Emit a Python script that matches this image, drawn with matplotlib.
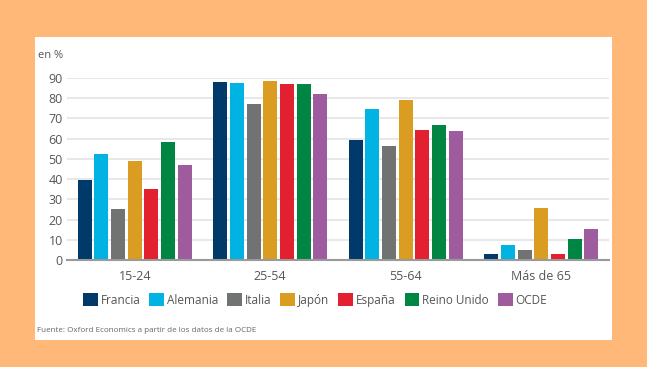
import numpy as np
import matplotlib.pyplot as plt

# Data
categories = ["15-24", "25-54", "55-64", "Más de 65"]
countries = ["Francia", "Alemania", "Italia", "Japón", "España", "Reino Unido", "OCDE"]
francia = [39.5, 88, 59.5, 3]
alemania = [52.5, 87.5, 74.5, 7.5]
italia = [25, 77, 56.5, 5]
japon = [49, 88.5, 79, 25.5]
espana = [35, 87, 64.5, 3]
reino_unido = [58.5, 87, 67, 10.5]
ocde = [47, 82, 64, 15.5]
yticks = [0, 10, 20, 30, 40, 50, 60, 70, 80, 90]

series = [francia, alemania, italia, japon, espana, reino_unido, ocde]
colors = ["#003A6B", "#00B3E3", "#707372", "#DA9D22", "#E2202F", "#008542", "#9E5C9E"]

text_color = "#555555"
font = "Open Sans"

fig = plt.figure(figsize=(6.47, 3.67), dpi=100)
fig.patch.set_facecolor("#FFB878")

# white panel behind the chart
bg = fig.add_axes([35 / 647, 1 - 340 / 367, 577 / 647, 303 / 367], zorder=0)
bg.set_facecolor("white")
bg.set_xticks([])
bg.set_yticks([])
for s in bg.spines.values():
    s.set_visible(False)

ax = fig.add_axes([67 / 647, 1 - 260 / 367, 542 / 647, 182 / 367], zorder=1)
ax.set_facecolor("none")

x = np.arange(len(categories))
pitch = 0.123
width = 0.104
for i, (vals, col, name) in enumerate(zip(series, colors, countries)):
    offs = (i - 3) * pitch
    ax.bar(x + offs, vals, width, color=col, label=name, zorder=3)

ax.set_xlim(-0.5, 3.5)
ax.set_ylim(0, 90)
ax.set_yticks(yticks)
ax.set_xticks(x)
ax.set_xticklabels(categories)
ax.yaxis.grid(True, color="#E8E8E8", linewidth=1.5, zorder=0)
ax.set_axisbelow(True)
for s in ["top", "right", "left"]:
    ax.spines[s].set_visible(False)
ax.spines["bottom"].set_color("#9A9A9A")
ax.spines["bottom"].set_linewidth(1.5)
ax.spines["bottom"].set_zorder(4)
ax.tick_params(axis="both", length=0, labelsize=9, labelcolor=text_color)
ax.tick_params(axis="y", pad=3)
ax.tick_params(axis="x", pad=7)
for lbl in ax.get_xticklabels() + ax.get_yticklabels():
    lbl.set_fontfamily(font)

fig.text(38 / 647, 1 - 55 / 367, "en %", fontsize=8, color=text_color,
         family=font, va="center", ha="left", zorder=2)

fig.legend(loc="center", bbox_to_anchor=(315 / 647, 1 - 300 / 367), ncol=7,
           frameon=False, handlelength=1.25, handleheight=1.25, handletextpad=0.25,
           columnspacing=0.75, prop={"family": font, "size": 8.5},
           labelcolor=text_color)

fig.text(37 / 647, 1 - 331 / 367, "Fuente: Oxford Economics a partir de los datos de la OCDE",
         fontsize=5.8, color="#666666", family=font, va="center", ha="left", zorder=2)

fig.savefig("out.png", dpi=100, facecolor=fig.get_facecolor())
